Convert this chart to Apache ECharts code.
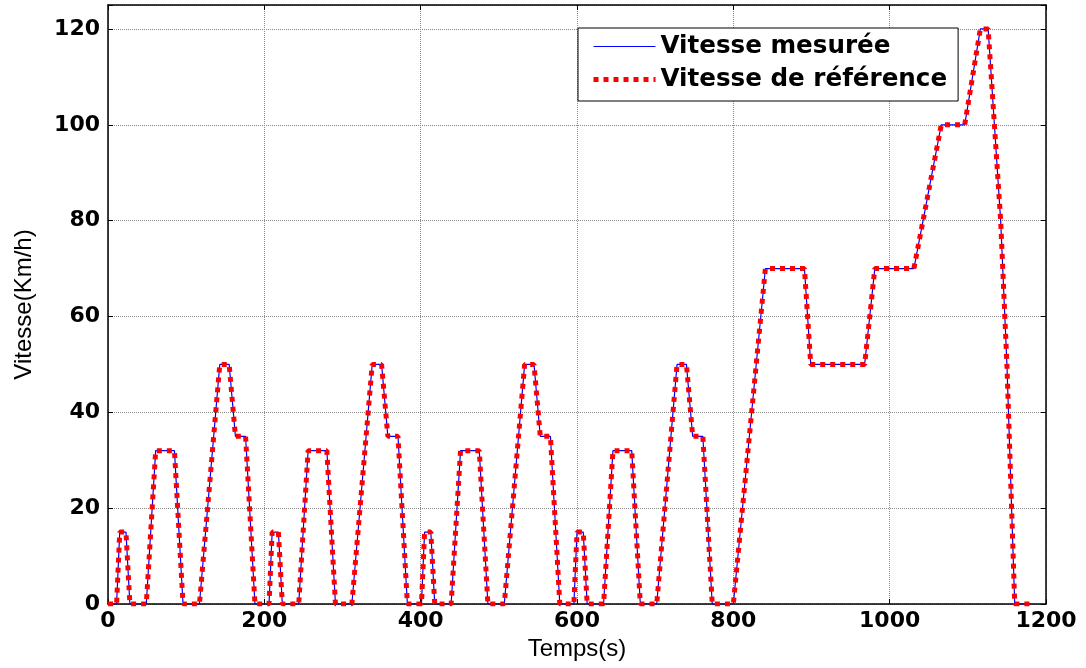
<!DOCTYPE html>
<html>
<head>
<meta charset="utf-8">
<title>Vitesse mesurée / Vitesse de référence</title>
<script src="https://cdn.jsdelivr.net/npm/echarts@6/dist/echarts.min.js"></script>
<style>
  html, body { margin: 0; padding: 0; background: #fff; }
  #chart { width: 1086px; height: 668px; }
</style>
</head>
<body>
<div id="chart"></div>
<script>
// Breakpoints of the driving cycle: four urban cycles followed by the extra-urban part
const temps = [
  0, 11, 15, 23, 28, 49, 61, 85, 96, 117, 143, 155, 163, 176, 188, 195,
  206, 210, 218, 223, 244, 256, 280, 291, 312, 338, 350, 358, 371, 383, 390,
  401, 405, 413, 418, 439, 451, 475, 486, 507, 533, 545, 553, 566, 578, 585,
  596, 600, 608, 613, 634, 646, 670, 681, 702, 728, 740, 748, 761, 773, 780,
  800, 841, 891, 899, 968, 981, 1031, 1066, 1096, 1116, 1126, 1142, 1150, 1160, 1180
];
const vitesseReference = [
  0, 0, 15, 15, 0, 0, 32, 32, 0, 0, 50, 50, 35, 35, 0, 0,
  0, 15, 15, 0, 0, 32, 32, 0, 0, 50, 50, 35, 35, 0, 0,
  0, 15, 15, 0, 0, 32, 32, 0, 0, 50, 50, 35, 35, 0, 0,
  0, 15, 15, 0, 0, 32, 32, 0, 0, 50, 50, 35, 35, 0, 0,
  0, 70, 70, 50, 50, 70, 70, 100, 100, 120, 120, 80, 50, 0, 0
];
const vitesseMesuree = [
  0, 0, 15, 15, 0, 0, 32, 32, 0, 0, 50, 50, 35, 35, 0, 0,
  0, 15, 15, 0, 0, 32, 32, 0, 0, 50, 50, 35, 35, 0, 0,
  0, 15, 15, 0, 0, 32, 32, 0, 0, 50, 50, 35, 35, 0, 0,
  0, 15, 15, 0, 0, 32, 32, 0, 0, 50, 50, 35, 35, 0, 0,
  0, 70, 70, 50, 50, 70, 70, 100, 100, 120, 120, 80, 50, 0, 0
];
const xTicks = [0, 200, 400, 600, 800, 1000, 1200];
const yTicks = [0, 20, 40, 60, 80, 100, 120];

const pairs = (ys) => temps.map((t, i) => [t, ys[i]]);

const tickFont = { fontFamily: 'DejaVu Sans', fontWeight: 'bold', fontSize: 22, color: '#000' };
const nameFont = { fontFamily: 'Liberation Sans', fontWeight: 'normal', fontSize: 24, color: '#000' };
const boxLine = { show: true, onZero: false, lineStyle: { color: '#000', width: 1.5 } };
const inTicks = { show: true, inside: true, length: 5, lineStyle: { color: '#000', width: 1 } };
const gridDots = { show: true, lineStyle: { color: '#8a8a8a', width: 1, type: [1, 1] } };

const blueLine = { color: '#0000ff', width: 1.2 };
const redLine = { color: '#ff0000', width: 5, type: 'dotted', cap: 'butt', opacity: 1 };

const chart = echarts.init(document.getElementById('chart'), null, { renderer: 'canvas' });
chart.setOption({
  animation: false,
  backgroundColor: '#fff',
  grid: { left: 108, right: 40, top: 5, bottom: 64, containLabel: false },
  legend: {
    left: 578, top: 28, orient: 'vertical',
    backgroundColor: '#fff', borderColor: '#000', borderWidth: 1,
    padding: [6, 11, 9, 13], itemGap: 8, itemWidth: 62, itemHeight: 14,
    itemStyle: { opacity: 0 },
    textStyle: { fontFamily: 'DejaVu Sans', fontWeight: 'bold', fontSize: 24.6, color: '#000' },
    data: [
      { name: 'Vitesse mesurée', lineStyle: blueLine },
      { name: 'Vitesse de référence', lineStyle: redLine }
    ]
  },
  xAxis: [
    {
      type: 'value', min: xTicks[0], max: xTicks[xTicks.length - 1], interval: 200,
      name: 'Temps(s)', nameLocation: 'middle', nameGap: 31, nameTextStyle: nameFont,
      axisLine: boxLine, axisTick: inTicks, splitLine: gridDots,
      axisLabel: Object.assign({ margin: 6, formatter: (v) => String(v) }, tickFont)
    },
    {
      type: 'value', position: 'top', min: xTicks[0], max: xTicks[xTicks.length - 1], interval: 200,
      axisLine: boxLine, axisTick: inTicks, splitLine: { show: false }, axisLabel: { show: false }
    }
  ],
  yAxis: [
    {
      type: 'value', min: 0, max: 125, interval: 20,
      name: 'Vitesse(Km/h)', nameLocation: 'middle', nameGap: 72, nameTextStyle: nameFont,
      axisLine: boxLine, axisTick: inTicks, splitLine: gridDots,
      axisLabel: Object.assign({
        margin: 8,
        formatter: (v) => (yTicks.indexOf(v) >= 0 ? String(v) : '')
      }, tickFont)
    },
    {
      type: 'value', position: 'right', min: 0, max: 125, interval: 20,
      axisLine: boxLine, axisTick: inTicks, splitLine: { show: false }, axisLabel: { show: false }
    }
  ],
  series: [
    {
      name: 'Vitesse mesurée', type: 'line', data: pairs(vitesseMesuree),
      symbol: 'none', z: 2,
      lineStyle: blueLine, itemStyle: { color: '#0000ff' }
    },
    {
      name: 'Vitesse de référence', type: 'line', data: pairs(vitesseReference),
      symbol: 'none', z: 3,
      lineStyle: redLine, itemStyle: { color: '#ff0000' }
    }
  ]
});
</script>
</body>
</html>
